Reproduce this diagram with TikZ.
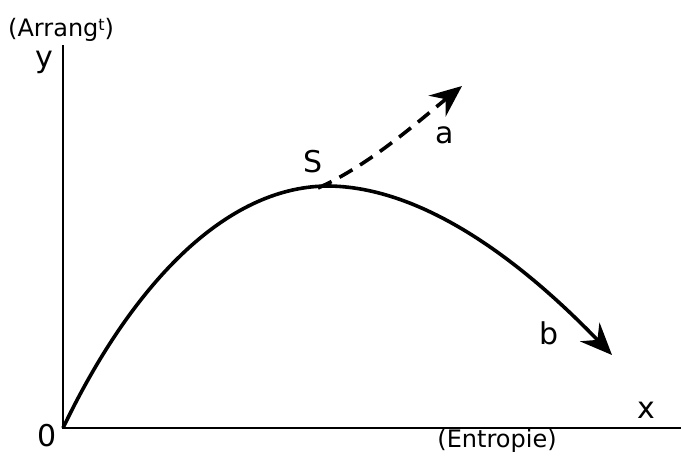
\documentclass[tikz,border=0pt]{standalone}
\usepackage{fontspec}
\setmainfont{DejaVu Sans}
\usetikzlibrary{arrows.meta}
\begin{document}
\begin{tikzpicture}[x=1pt,y=-1pt,
  axis/.style={line width=2.6pt},
  curve/.style={line width=3.6pt},
  lbl/.style={font=\fontsize{30}{32}\selectfont, inner sep=0pt},
  small/.style={font=\fontsize{24}{26}\selectfont, inner sep=0pt},
  tip/.style={-{Stealth[length=32pt,width=27pt,inset=11pt]}}]
\useasboundingbox (0,0) rectangle (681,459);
\coordinate (O) at (63,428);
\coordinate (ytop) at (63,45);
\coordinate (xend) at (681,428);
\coordinate (S) at (318,188);
\coordinate (aend) at (462,86);
\coordinate (bend) at (612,355);
\draw[axis] (ytop) -- (O) -- (xend);
\draw[curve, tip] (O) .. controls (135,278) and (230,185) .. (330,186)
  .. controls (430,188) and (530,270) .. (bend);
\draw[curve, dashed, dash pattern=on 15pt off 9pt, tip] (S) .. controls (370,165) and (420,120) .. (aend);
\node[small, anchor=west] (arr) at (8,30) {(Arrang\raisebox{0.45ex}{\fontsize{16}{16}\selectfont t})};
\node[lbl] (ylab) at (44,62) {y};
\node[lbl] (olab) at (47,436) {0};
\node[lbl] (slab) at (313,162) {S};
\node[lbl] (alab) at (445,135) {a};
\node[lbl] (blab) at (549,333) {b};
\node[lbl] (xlab) at (646,410) {x};
\node[small] (ent) at (497,441) {(Entropie)};
\end{tikzpicture}
\end{document}
